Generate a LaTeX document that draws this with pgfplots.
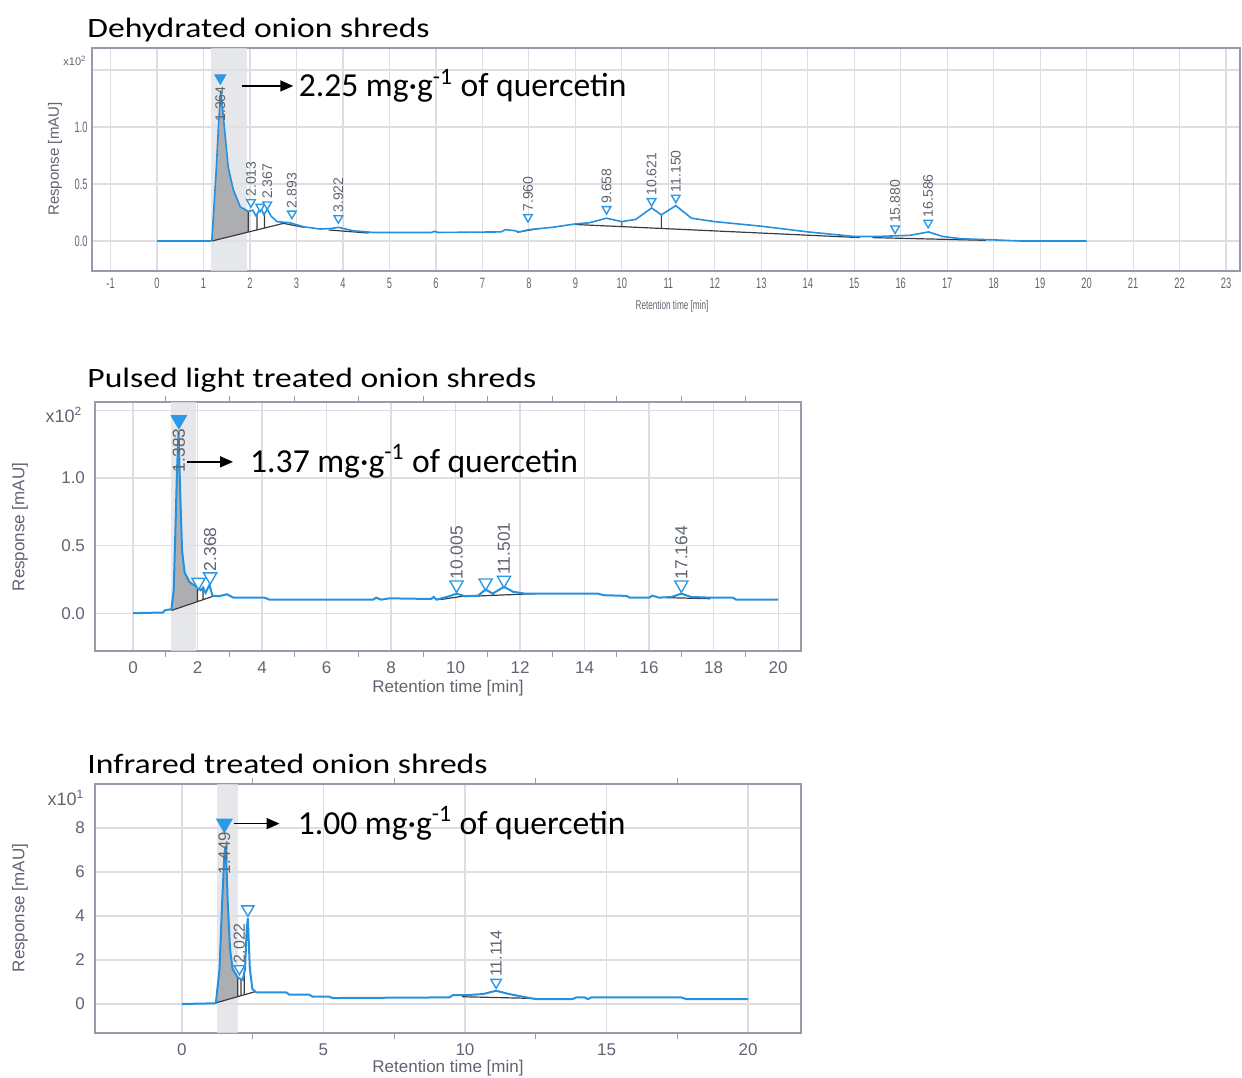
\documentclass[border=0pt]{standalone}
\usepackage{fontspec}
\setmainfont{Carlito}
\newfontfamily\arialf{Liberation Sans}
\usepackage{pgfplots}
\pgfplotsset{compat=1.18}
\usetikzlibrary{arrows.meta}

\definecolor{cTrace}{RGB}{36,144,222}
\definecolor{cMark}{RGB}{45,152,228}
\definecolor{cFrame}{RGB}{150,155,170}
\definecolor{cGrid}{RGB}{222,222,226}
\definecolor{cTick}{RGB}{95,100,112}
\definecolor{cBand}{RGB}{224,225,229}
\definecolor{cArea}{RGB}{172,174,178}
\definecolor{cBase}{RGB}{60,60,64}

\newcommand\fs[1]{\fontsize{#1}{#1}\selectfont}

\pgfplotsset{
  chrom/.style={
    scale only axis, anchor=south west, clip=true,
    axis line style={draw=cFrame, line width=0.9pt},
    grid=major, major grid style={draw=cGrid, line width=0.6pt},
    tick align=outside, major tick length=0pt, minor tick length=3pt,
    tick style={draw=cFrame, line width=0.6pt},
    /pgf/number format/assume math mode=true,
  },
  trace/.style={draw=cTrace, line width=#1, mark=none},
  trace/.default=1pt,
  base/.style={draw=cBase, line width=0.6pt, mark=none, unbounded coords=jump},
  area/.style={fill=cArea, draw=none, mark=none},
  band/.style={fill=cBand, fill opacity=0.8, draw=none, mark=none},
  openpk/.style={only marks, mark=triangle*, mark size=#1,
    mark options={rotate=180, fill=white, draw=cMark, line width=0.7pt}},
  mainpk/.style={only marks, mark=triangle*, mark size=#1,
    mark options={rotate=180, fill=cMark, draw=cMark}},
  uplab/.style={nodes near coords, point meta=explicit symbolic,
    every node near coord/.append style={rotate=90, anchor=west, text=cTick,
      inner sep=0.3pt, outer xsep=2.5pt, font=\arialf\fs{#1}}},
  downlab/.style={nodes near coords, point meta=explicit symbolic,
    every node near coord/.append style={rotate=90, anchor=east, text=cBase!80,
      inner sep=0.3pt, outer xsep=4pt, font=\arialf\fs{#1}}},
}

\begin{document}
\begin{tikzpicture}
\path[use as bounding box] (0,0) rectangle (621pt,-538.5pt);

% ---------- Dehydrated ----------
\node[anchor=base west, inner sep=0, font=\fs{14}, xscale=1.2] at (43.5pt,-18.8pt) {Dehydrated onion shreds};
\begin{axis}[chrom, at={(46pt,-135.5pt)}, width=574pt, height=111.5pt,
  xmin=-1.40, xmax=23.3, ymin=-0.263, ymax=1.693,
  xtick={-1,0,...,23}, ytick={0,0.5,1,1.5}, yticklabels={0.0,0.5,1.0,{}},
  xticklabel style={font=\arialf\fs{7.5}, text=cTick, xscale=0.62},
  yticklabel style={font=\arialf\fs{7.5}, text=cTick, xscale=0.62},
]
\addplot[band] coordinates {(1.16,-0.263) (1.93,-0.263) (1.93,1.693) (1.16,1.693)};
\addplot[area] coordinates {(1.18,0.0) (1.27,0.6) (1.32,1.0) (1.37,1.32) (1.44,1.03)
  (1.53,0.65) (1.64,0.45) (1.79,0.30) (1.96,0.26) (1.96,0.079)};
\addplot[base] coordinates {(1.18,0.0) (2.72,0.155) (3.16,0.12) (3.2,nan)
  (3.69,0.097) (4.55,0.07) (5,nan) (7.74,0.077) (8.23,0.11) (8.5,nan)
  (9.0,0.145) (15.12,0.03) (15.2,nan) (15.39,0.03) (17.84,0.006) (18,nan)
  (1.96,0.079) (1.96,0.26) (2,nan) (2.15,0.098) (2.15,0.23) (2.2,nan)
  (2.31,0.114) (2.31,0.23) (2.4,nan) (10.0,0.123) (10.0,0.17) (10.1,nan)
  (10.85,0.108) (10.85,0.23)};
\addplot[trace=0.8pt] coordinates {
  (0,0) (1.15,0.0) (1.18,0.01) (1.27,0.6) (1.32,1.0) (1.37,1.32) (1.44,1.03)
  (1.53,0.65) (1.64,0.45) (1.79,0.30) (1.96,0.26) (2.06,0.27) (2.13,0.22)
  (2.23,0.29) (2.30,0.23) (2.37,0.28) (2.45,0.22) (2.58,0.17) (2.86,0.16)
  (3.15,0.125) (3.51,0.105) (3.75,0.11) (3.90,0.12) (4.22,0.09) (4.65,0.075)
  (5.9,0.075) (5.97,0.085) (6.05,0.075) (7.4,0.08) (7.5,0.10) (7.7,0.09)
  (7.8,0.08) (8.0,0.10) (8.5,0.12) (9.0,0.15) (9.3,0.16) (9.67,0.20)
  (10.0,0.17) (10.3,0.19) (10.64,0.29) (10.85,0.23) (11.16,0.31) (11.5,0.20)
  (12.0,0.17) (13.0,0.13) (14.0,0.08) (15.0,0.04) (15.5,0.04) (16.2,0.05)
  (16.6,0.08) (16.9,0.04) (17.3,0.02) (18.0,0.01) (18.6,0.0) (20.0,0.0)};
\addplot[openpk=2.5pt] coordinates {(2.22,0.30)};
\addplot[openpk=2.5pt, uplab=7] coordinates {(2.02,0.34) [2.013] (2.37,0.32) [2.367]
  (2.90,0.24) [2.893] (3.90,0.20) [3.922] (7.98,0.21) [7.960] (9.67,0.28) [9.658]
  (10.64,0.35) [10.621] (11.16,0.38) [11.150] (15.88,0.11) [15.880] (16.59,0.16) [16.586]};
\addplot[mainpk=3.2pt, downlab=7] coordinates {(1.36,1.43) [1.364]};
\draw[-{Triangle[length=6.5pt,width=5.5pt]}, line width=0.8pt] (axis cs:1.82,1.36) -- (axis cs:2.93,1.36);
\node[anchor=base west, inner sep=0, font=\fs{16.8}] at ([yshift=-5.3pt]axis cs:3.04,1.36) {2.25 mg·g\textsuperscript{-1} of quercetin};
\end{axis}
\node[font=\arialf\fs{5.5}, text=cTick, inner sep=0] at (37.5pt,-30.5pt) {x10\textsuperscript{2}};
\node[font=\arialf\fs{7.5}, text=cTick, rotate=90, inner sep=0] at (27.5pt,-79.5pt) {Response [mAU]};
\node[font=\arialf\fs{6.3}, text=cTick, xscale=0.65, inner sep=0] at (336pt,-153pt) {Retention time [min]};

% ---------- Pulsed light ----------
\node[anchor=base west, inner sep=0, font=\fs{14}, xscale=1.2] at (43.5pt,-193.8pt) {Pulsed light treated onion shreds};
\begin{axis}[chrom, at={(47.5pt,-325.5pt)}, width=353pt, height=124.5pt,
  xmin=-1.18, xmax=20.71, ymin=-0.28, ymax=1.563,
  xtick={0,2,...,20}, minor x tick num=1,
  ytick={0,0.5,1,1.5}, yticklabels={0.0,0.5,1.0,{}},
  xticklabel style={font=\arialf\fs{8.5}, text=cTick, yshift=-2pt},
  yticklabel style={font=\arialf\fs{8.5}, text=cTick, xshift=-1.5pt},
]
\addplot[band] coordinates {(1.18,-0.28) (1.96,-0.28) (1.96,1.563) (1.18,1.563)};
\addplot[area] coordinates {(1.19,0.02) (1.26,0.17) (1.32,0.67) (1.36,1.04) (1.41,1.34)
  (1.46,0.91) (1.52,0.46) (1.60,0.30) (1.75,0.23) (2.0,0.19) (2.0,0.086)};
\addplot[base] coordinates {(1.19,0.02) (2.48,0.125) (2.6,nan)
  (9.5,0.10) (10.36,0.13) (10.4,nan) (10.46,0.125) (12.5,0.145) (12.6,nan)
  (16.55,0.115) (17.9,0.107) (18,nan)
  (2.0,0.086) (2.0,0.19) (2.1,nan) (2.17,0.10) (2.17,0.19) (2.2,nan)
  (11.15,0.132) (11.15,0.145)};
\addplot[trace] coordinates {
  (0,0) (0.93,0.005) (0.98,0.02) (1.19,0.03) (1.26,0.17) (1.32,0.67) (1.36,1.04)
  (1.41,1.34) (1.46,0.91) (1.52,0.46) (1.60,0.30) (1.75,0.23) (2.0,0.19) (2.1,0.17)
  (2.17,0.19) (2.25,0.15) (2.37,0.21) (2.46,0.13) (2.66,0.125) (2.91,0.14)
  (3.11,0.115) (4.08,0.115) (4.23,0.10) (7.44,0.10) (7.54,0.115) (7.69,0.10)
  (7.95,0.11) (9.24,0.105) (9.32,0.12) (9.41,0.10) (9.8,0.125) (10.03,0.145)
  (10.3,0.125) (10.7,0.13) (10.93,0.175) (11.15,0.145) (11.5,0.195) (11.79,0.158)
  (12.15,0.145) (14.4,0.145) (14.6,0.133) (15.3,0.128) (15.4,0.115) (16.0,0.115)
  (16.1,0.13) (16.3,0.115) (16.7,0.12) (17.0,0.145) (17.3,0.12) (17.9,0.115)
  (18.6,0.115) (18.7,0.10) (20.0,0.10)};
\addplot[openpk=3.8pt] coordinates {(2.03,0.23) (10.93,0.225)};
\addplot[openpk=3.8pt, uplab=8.7] coordinates {(2.39,0.27) [2.368] (10.03,0.21) [10.005]
  (11.5,0.245) [11.501] (17.0,0.21) [17.164]};
\addplot[mainpk=4.5pt, downlab=8.7] coordinates {(1.42,1.43) [1.383]};
\draw[-{Triangle[length=6.5pt,width=5.5pt]}, line width=0.8pt] (axis cs:1.67,1.12) -- (axis cs:3.10,1.12);
\node[anchor=base west, inner sep=0, font=\fs{16.8}] at ([yshift=-5.3pt]axis cs:3.62,1.12) {1.37 mg·g\textsuperscript{-1} of quercetin};
\end{axis}
\node[font=\arialf\fs{9}, text=cTick, inner sep=0] at (32pt,-207.5pt) {x10\textsuperscript{2}};
\node[font=\arialf\fs{8.5}, text=cTick, rotate=90, inner sep=0] at (10pt,-263.5pt) {Response [mAU]};
\node[font=\arialf\fs{8.5}, text=cTick, inner sep=0] at (224pt,-344pt) {Retention time [min]};

% ---------- Infrared ----------
\node[anchor=base west, inner sep=0, font=\fs{14}, xscale=1.2] at (43.5pt,-386.8pt) {Infrared treated onion shreds};
\begin{axis}[chrom, at={(47.5pt,-516.5pt)}, width=353pt, height=124.5pt,
  xmin=-3.07, xmax=21.87, ymin=-1.32, ymax=10.0,
  xtick={0,5,...,20}, minor x tick num=1,
  ytick={0,2,...,10}, yticklabels={0,2,4,6,8,{}},
  xticklabel style={font=\arialf\fs{8.5}, text=cTick, yshift=-2pt},
  yticklabel style={font=\arialf\fs{8.5}, text=cTick, xshift=-1.5pt},
]
\addplot[band] coordinates {(1.23,-1.32) (1.97,-1.32) (1.97,10) (1.23,10)};
\addplot[area] coordinates {(1.2,0.05) (1.33,1.6) (1.42,4.6) (1.50,6.8) (1.55,7.2)
  (1.62,4.6) (1.70,2.5) (1.79,1.6) (1.97,1.2) (1.97,0.35)};
\addplot[base] coordinates {(1.2,0.05) (2.56,0.55) (2.6,nan) (9.9,0.33) (12.5,0.25) (12.6,nan)
  (1.97,0.35) (1.97,1.2) (2.0,nan) (2.09,0.39) (2.09,1.12) (2.1,nan)
  (2.2,0.43) (2.2,1.4)};
\addplot[trace] coordinates {
  (0,0) (1.15,0.03) (1.2,0.05) (1.33,1.6) (1.42,4.6) (1.50,6.8) (1.55,7.2)
  (1.62,4.6) (1.70,2.5) (1.79,1.6) (1.97,1.2) (2.15,1.1) (2.23,1.6) (2.29,3.4)
  (2.33,3.9) (2.40,1.6) (2.49,0.68) (2.62,0.53) (3.68,0.53) (3.8,0.42) (4.5,0.42)
  (4.62,0.33) (5.2,0.33) (5.33,0.27) (9.45,0.30) (9.57,0.40) (10.0,0.40)
  (10.63,0.45) (11.1,0.6) (11.57,0.45) (12.04,0.33) (12.5,0.22) (13.8,0.22)
  (13.93,0.30) (14.22,0.30) (14.34,0.22) (14.46,0.30) (17.64,0.30) (17.82,0.22)
  (20.0,0.22)};
\addplot[openpk=3.5pt] coordinates {(2.33,4.3)};
\addplot[openpk=3pt, uplab=8] coordinates {(2.03,1.6) [2.022] (11.1,0.98) [11.114]};
\addplot[mainpk=4.5pt, downlab=8.4] coordinates {(1.50,8.2) [1.449]};
\draw[-{Triangle[length=6.5pt,width=5.5pt]}, line width=0.8pt] (axis cs:1.85,8.2) -- (axis cs:3.45,8.2);
\node[anchor=base west, inner sep=0, font=\fs{16.8}] at ([yshift=-5.3pt]axis cs:4.08,8.2) {1.00 mg·g\textsuperscript{-1} of quercetin};
\end{axis}
\node[font=\arialf\fs{9}, text=cTick, inner sep=0] at (33pt,-399pt) {x10\textsuperscript{1}};
\node[font=\arialf\fs{8.5}, text=cTick, rotate=90, inner sep=0] at (10pt,-454pt) {Response [mAU]};
\node[font=\arialf\fs{8.5}, text=cTick, inner sep=0] at (224pt,-534pt) {Retention time [min]};
\end{tikzpicture}
\end{document}
